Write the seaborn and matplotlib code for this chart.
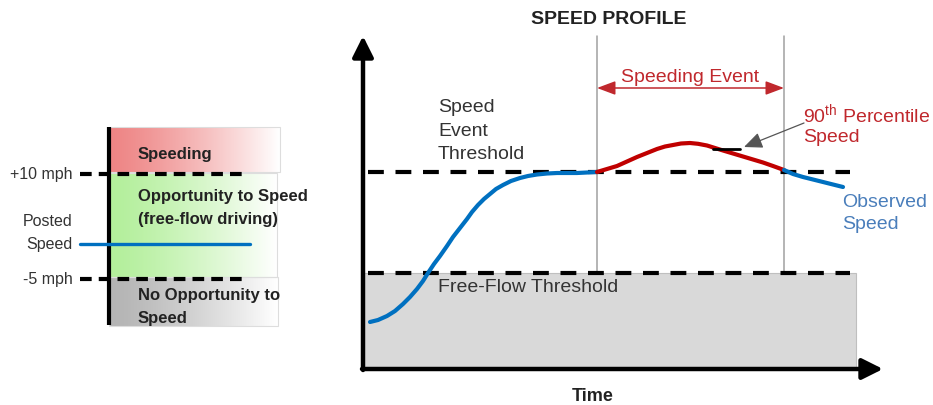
import matplotlib
matplotlib.use("Agg")
import matplotlib.pyplot as plt
import numpy as np
import pandas as pd
import seaborn as sns
from matplotlib.colors import LinearSegmentedColormap
from matplotlib.patches import Rectangle

# --- data (pixel units of the 933x406 canvas, y down) ---
# observed speed: ramp up to the speed event threshold
rise_x = [370, 378, 387, 395, 403, 410, 417, 423, 428, 434, 440, 447, 453, 460, 467, 472,
          478, 484, 490, 496, 503, 511, 520, 528, 537, 547, 557, 567, 577, 587, 597]
rise_y = [323, 321, 317, 312, 305, 298, 290, 282, 274, 265, 257, 247, 238, 229, 220, 213,
          206, 200, 195, 190, 186, 182, 179, 177, 175.5, 174.5, 174, 174, 174, 173.5, 173]
# speeding event hump (red)
hump_x = [597, 607, 617, 627, 637, 647, 657, 665, 673, 681, 690, 698, 707, 715, 723, 733,
          743, 753, 763, 773, 784]
hump_y = [173, 170, 167, 162.5, 158, 154, 150, 147.5, 146, 144.5, 144, 144.8, 146.5, 149,
          151.5, 154.5, 157.5, 160.5, 163.5, 167, 171]
# observed speed after the event
tail_x = [784, 793, 803, 813, 823, 833, 843]
tail_y = [171, 175, 178, 180.5, 183, 185.5, 188]

event_threshold = 173
freeflow_threshold = 274
event_start, event_end = 597, 784
p90_speed = 150

# left legend panel bands (top, bottom, colour at left edge)
band_names = ["Speeding", "Opportunity", "No Opportunity"]
band_top = [128, 174, 278]
band_bottom = [173, 278, 327]
band_right = [280, 277, 278]
band_color = ["#ee8585", "#b3ef9b", "#b4b4b4"]
plus10_y, minus5_y, posted_y = 175, 280, 245

sns.set_theme(style="white")
plt.rcParams["font.family"] = ["Liberation Sans", "DejaVu Sans"]
plt.rcParams["mathtext.fontset"] = "custom"
plt.rcParams["mathtext.rm"] = "Liberation Sans"

fig = plt.figure(figsize=(9.33, 4.06), dpi=100)
ax = fig.add_axes([0, 0, 1, 1])

TXT = "#333333"
BLUE = "#0070c0"
RED = "#c00000"

# ------------------------------------------------------------------ #
# left panel: speed categories                                         #
# ------------------------------------------------------------------ #
grad = np.linspace(0, 1, 256).reshape(1, -1) ** 1.3
for name, top, bot, right, col in zip(band_names, band_top, band_bottom, band_right, band_color):
    cmap = LinearSegmentedColormap.from_list(name, [col, "#ffffff"])
    ax.imshow(grad, cmap=cmap, extent=(109, right, bot, top), aspect="auto", zorder=1)
    ax.add_patch(Rectangle((109, top), right - 109, bot - top, fill=False,
                           edgecolor="#dddddd", lw=0.8, zorder=1.5))

ax.plot([109, 109], [128, 326], color="black", lw=3, solid_capstyle="butt", zorder=3)
for yy in [plus10_y, minus5_y]:
    ax.plot([80, 247], [yy, yy], color="black", lw=3, linestyle=(0, (2.8, 1.7)), zorder=3)
ax.plot([80, 250], [posted_y, posted_y], color=BLUE, lw=2.4, zorder=3)

ax.text(73, plus10_y, "+10 mph", ha="right", va="center", fontsize=11.5, color=TXT)
ax.text(73, 222, "Posted", ha="right", va="center", fontsize=11.5, color=TXT)
ax.text(73, posted_y, "Speed", ha="right", va="center", fontsize=11.5, color=TXT)
ax.text(73, minus5_y, "-5 mph", ha="right", va="center", fontsize=11.5, color=TXT)

bold_lines = [("Speeding", 155), ("Opportunity to Speed", 197), ("(free-flow driving)", 220),
              ("No Opportunity to", 296), ("Speed", 319)]
for s, yy in bold_lines:
    ax.text(138, yy, s, ha="left", va="center", fontsize=12, fontweight="bold", color="#222222", zorder=4)

# ------------------------------------------------------------------ #
# right panel: speed profile                                           #
# ------------------------------------------------------------------ #
ax.add_patch(Rectangle((363, freeflow_threshold), 856 - 363, 369 - freeflow_threshold,
                       facecolor="#d9d9d9", edgecolor="#bfbfbf", lw=0.8, zorder=1))

for xx in [event_start, event_end]:
    ax.plot([xx, xx], [37, freeflow_threshold], color="#a0a0a0", lw=1.1, zorder=2)

for yy in [event_threshold, freeflow_threshold]:
    ax.plot([368, 850], [yy, yy], color="black", lw=3, linestyle=(0, (3.8, 2.8)), zorder=3)

# axes arrows
arrow_kw = dict(arrowstyle="-|>,head_length=0.7,head_width=0.35", lw=3.2, color="black",
                mutation_scale=18, shrinkA=0, shrinkB=0)
ax.annotate("", xy=(363, 37), xytext=(363, 371), arrowprops=arrow_kw, zorder=5)
ax.annotate("", xy=(883, 370), xytext=(362, 370), arrowprops=arrow_kw, zorder=5)

# observed speed profile
seg = pd.DataFrame({"x": rise_x + hump_x + tail_x,
                    "y": rise_y + hump_y + tail_y,
                    "part": ["rise"] * len(rise_x) + ["hump"] * len(hump_x) + ["tail"] * len(tail_x)})
sns.lineplot(data=seg, x="x", y="y", hue="part", palette={"rise": BLUE, "hump": RED, "tail": BLUE},
             sort=False, estimator=None, lw=3, legend=False, ax=ax, zorder=4)
for l in ax.lines[-3:]:
    l.set_solid_capstyle("round")
    l.set_solid_joinstyle("round")

# 90th percentile marker
ax.plot([713, 740], [p90_speed, p90_speed], color="black", lw=2, zorder=5)
ax.annotate("", xy=(744, 148), xytext=(804, 124),
            arrowprops=dict(arrowstyle="-|>,head_length=0.8,head_width=0.35", lw=0.9,
                            color="#555555", mutation_scale=14, shrinkA=0, shrinkB=0), zorder=5)

# speeding event span
ax.annotate("", xy=(event_end, 89), xytext=(event_start, 89),
            arrowprops=dict(arrowstyle="<|-|>,head_length=0.8,head_width=0.3", lw=1.1,
                            color="#c0282d", mutation_scale=14, shrinkA=0, shrinkB=0), zorder=5)

ax.text(609, 20, "SPEED PROFILE", ha="center", va="center", fontsize=14, fontweight="bold", color="#222222")
ax.text(690, 77, "Speeding Event", ha="center", va="center", fontsize=14, color="#c0282d")
for s, yy in [("Speed", 108), ("Event", 132), ("Threshold", 155)]:
    ax.text(438, yy, s, ha="left", va="center", fontsize=14, color=TXT)
ax.text(803, 115, r"90$^{\rm th}$ Percentile", ha="left", va="center", fontsize=14, color="#c0282d")
ax.text(803, 138, "Speed", ha="left", va="center", fontsize=14, color="#c0282d")
ax.text(842, 203, "Observed", ha="left", va="center", fontsize=14, color="#4a7ebb")
ax.text(842, 225, "Speed", ha="left", va="center", fontsize=14, color="#4a7ebb")
ax.text(438, 288, "Free-Flow Threshold", ha="left", va="center", fontsize=14, color=TXT, zorder=4)
ax.text(593, 397, "Time", ha="center", va="center", fontsize=13, fontweight="bold", color="#222222")

ax.set_xlim(0, 933)
ax.set_ylim(406, 0)
ax.axis("off")

fig.savefig("out.png", dpi=100)
